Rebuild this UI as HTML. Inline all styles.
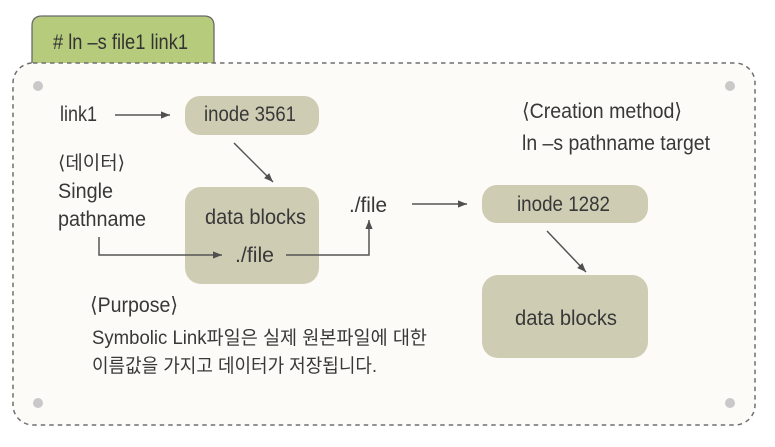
<!DOCTYPE html>
<html><head><meta charset="utf-8"><style>
html,body{margin:0;padding:0;background:#fff;}
svg{display:block;}
text{font-family:"Liberation Sans","DejaVu Sans","Noto Sans CJK KR",sans-serif;fill:#383838;font-size:21px;}
</style></head><body>
<svg width="775" height="447" viewBox="0 0 775 447" xmlns="http://www.w3.org/2000/svg">
<defs>
<marker id="ah" viewBox="0 0 10 10" refX="10" refY="5" markerWidth="17" markerHeight="9" markerUnits="userSpaceOnUse" orient="auto">
<path d="M0,1 L10,5 L0,9 Z" fill="#505050"/>
</marker>
</defs>
<!-- tab -->
<path d="M32,63 L32,26 Q32,16 42,16 L204,16 Q214,16 214,26 L214,63" fill="#b6cc7c" stroke="#6a6a6a" stroke-width="1.3"/>
<text x="53" y="49" textLength="135" lengthAdjust="spacingAndGlyphs" style="fill:#333">#  ln –s file1 link1</text>
<!-- container -->
<rect x="13" y="63" width="742" height="362" rx="20" ry="20" fill="#fdfbf7" stroke="#6f6f6f" stroke-width="1.5" stroke-dasharray="4.5 4"/>
<circle cx="38" cy="86" r="5" fill="#c9c9c9"/>
<circle cx="730" cy="86" r="5" fill="#c9c9c9"/>
<circle cx="38" cy="403" r="5" fill="#c9c9c9"/>
<circle cx="730" cy="403" r="5" fill="#c9c9c9"/>
<!-- boxes -->
<rect x="185" y="96" width="134" height="39" rx="15" fill="#cfccb4"/>
<rect x="185" y="187" width="134" height="97" rx="16" fill="#cfccb4"/>
<rect x="482" y="185" width="166" height="38" rx="15" fill="#cfccb4"/>
<rect x="482" y="275" width="166" height="83" rx="16" fill="#cfccb4"/>
<!-- connectors -->
<line x1="115" y1="115" x2="170" y2="115" stroke="#555" stroke-width="1.5" marker-end="url(#ah)"/>
<line x1="234" y1="143" x2="273" y2="182" stroke="#555" stroke-width="1.5" marker-end="url(#ah)"/>
<polyline points="99,237 99,255 222,255" fill="none" stroke="#555" stroke-width="1.5" marker-end="url(#ah)"/>
<polyline points="286,255 369,255 369,220" fill="none" stroke="#555" stroke-width="1.5" marker-end="url(#ah)"/>
<line x1="412" y1="204" x2="467" y2="204" stroke="#555" stroke-width="1.5" marker-end="url(#ah)"/>
<line x1="547" y1="231" x2="586" y2="272" stroke="#555" stroke-width="1.5" marker-end="url(#ah)"/>
<!-- texts -->
<text x="60" y="121" textLength="37" lengthAdjust="spacingAndGlyphs">link1</text>
<text x="204" y="121" textLength="92" lengthAdjust="spacingAndGlyphs">inode 3561</text>
<text x="58" y="169" textLength="67" lengthAdjust="spacingAndGlyphs" style="font-size:19px">⟨데이터⟩</text>
<text x="58" y="198" textLength="55" lengthAdjust="spacingAndGlyphs">Single</text>
<text x="58" y="226" textLength="88" lengthAdjust="spacingAndGlyphs">pathname</text>
<text x="205" y="224" textLength="101" lengthAdjust="spacingAndGlyphs">data blocks</text>
<text x="235" y="262" textLength="39" lengthAdjust="spacingAndGlyphs">./file</text>
<text x="349" y="212" textLength="38" lengthAdjust="spacingAndGlyphs">./file</text>
<text x="522" y="118" textLength="160" lengthAdjust="spacingAndGlyphs">⟨Creation method⟩</text>
<text x="522" y="150" textLength="188" lengthAdjust="spacingAndGlyphs">ln –s pathname target</text>
<text x="517" y="211" textLength="93" lengthAdjust="spacingAndGlyphs">inode 1282</text>
<text x="515" y="325" textLength="102" lengthAdjust="spacingAndGlyphs">data blocks</text>
<text x="90" y="312" textLength="88" lengthAdjust="spacingAndGlyphs">⟨Purpose⟩</text>
<text x="92" y="344" textLength="335" lengthAdjust="spacingAndGlyphs" style="font-size:19px">Symbolic Link파일은 실제 원본파일에 대한</text>
<text x="92" y="372" textLength="285" lengthAdjust="spacingAndGlyphs" style="font-size:19px">이름값을 가지고 데이터가 저장됩니다.</text>
</svg>
</body></html>
